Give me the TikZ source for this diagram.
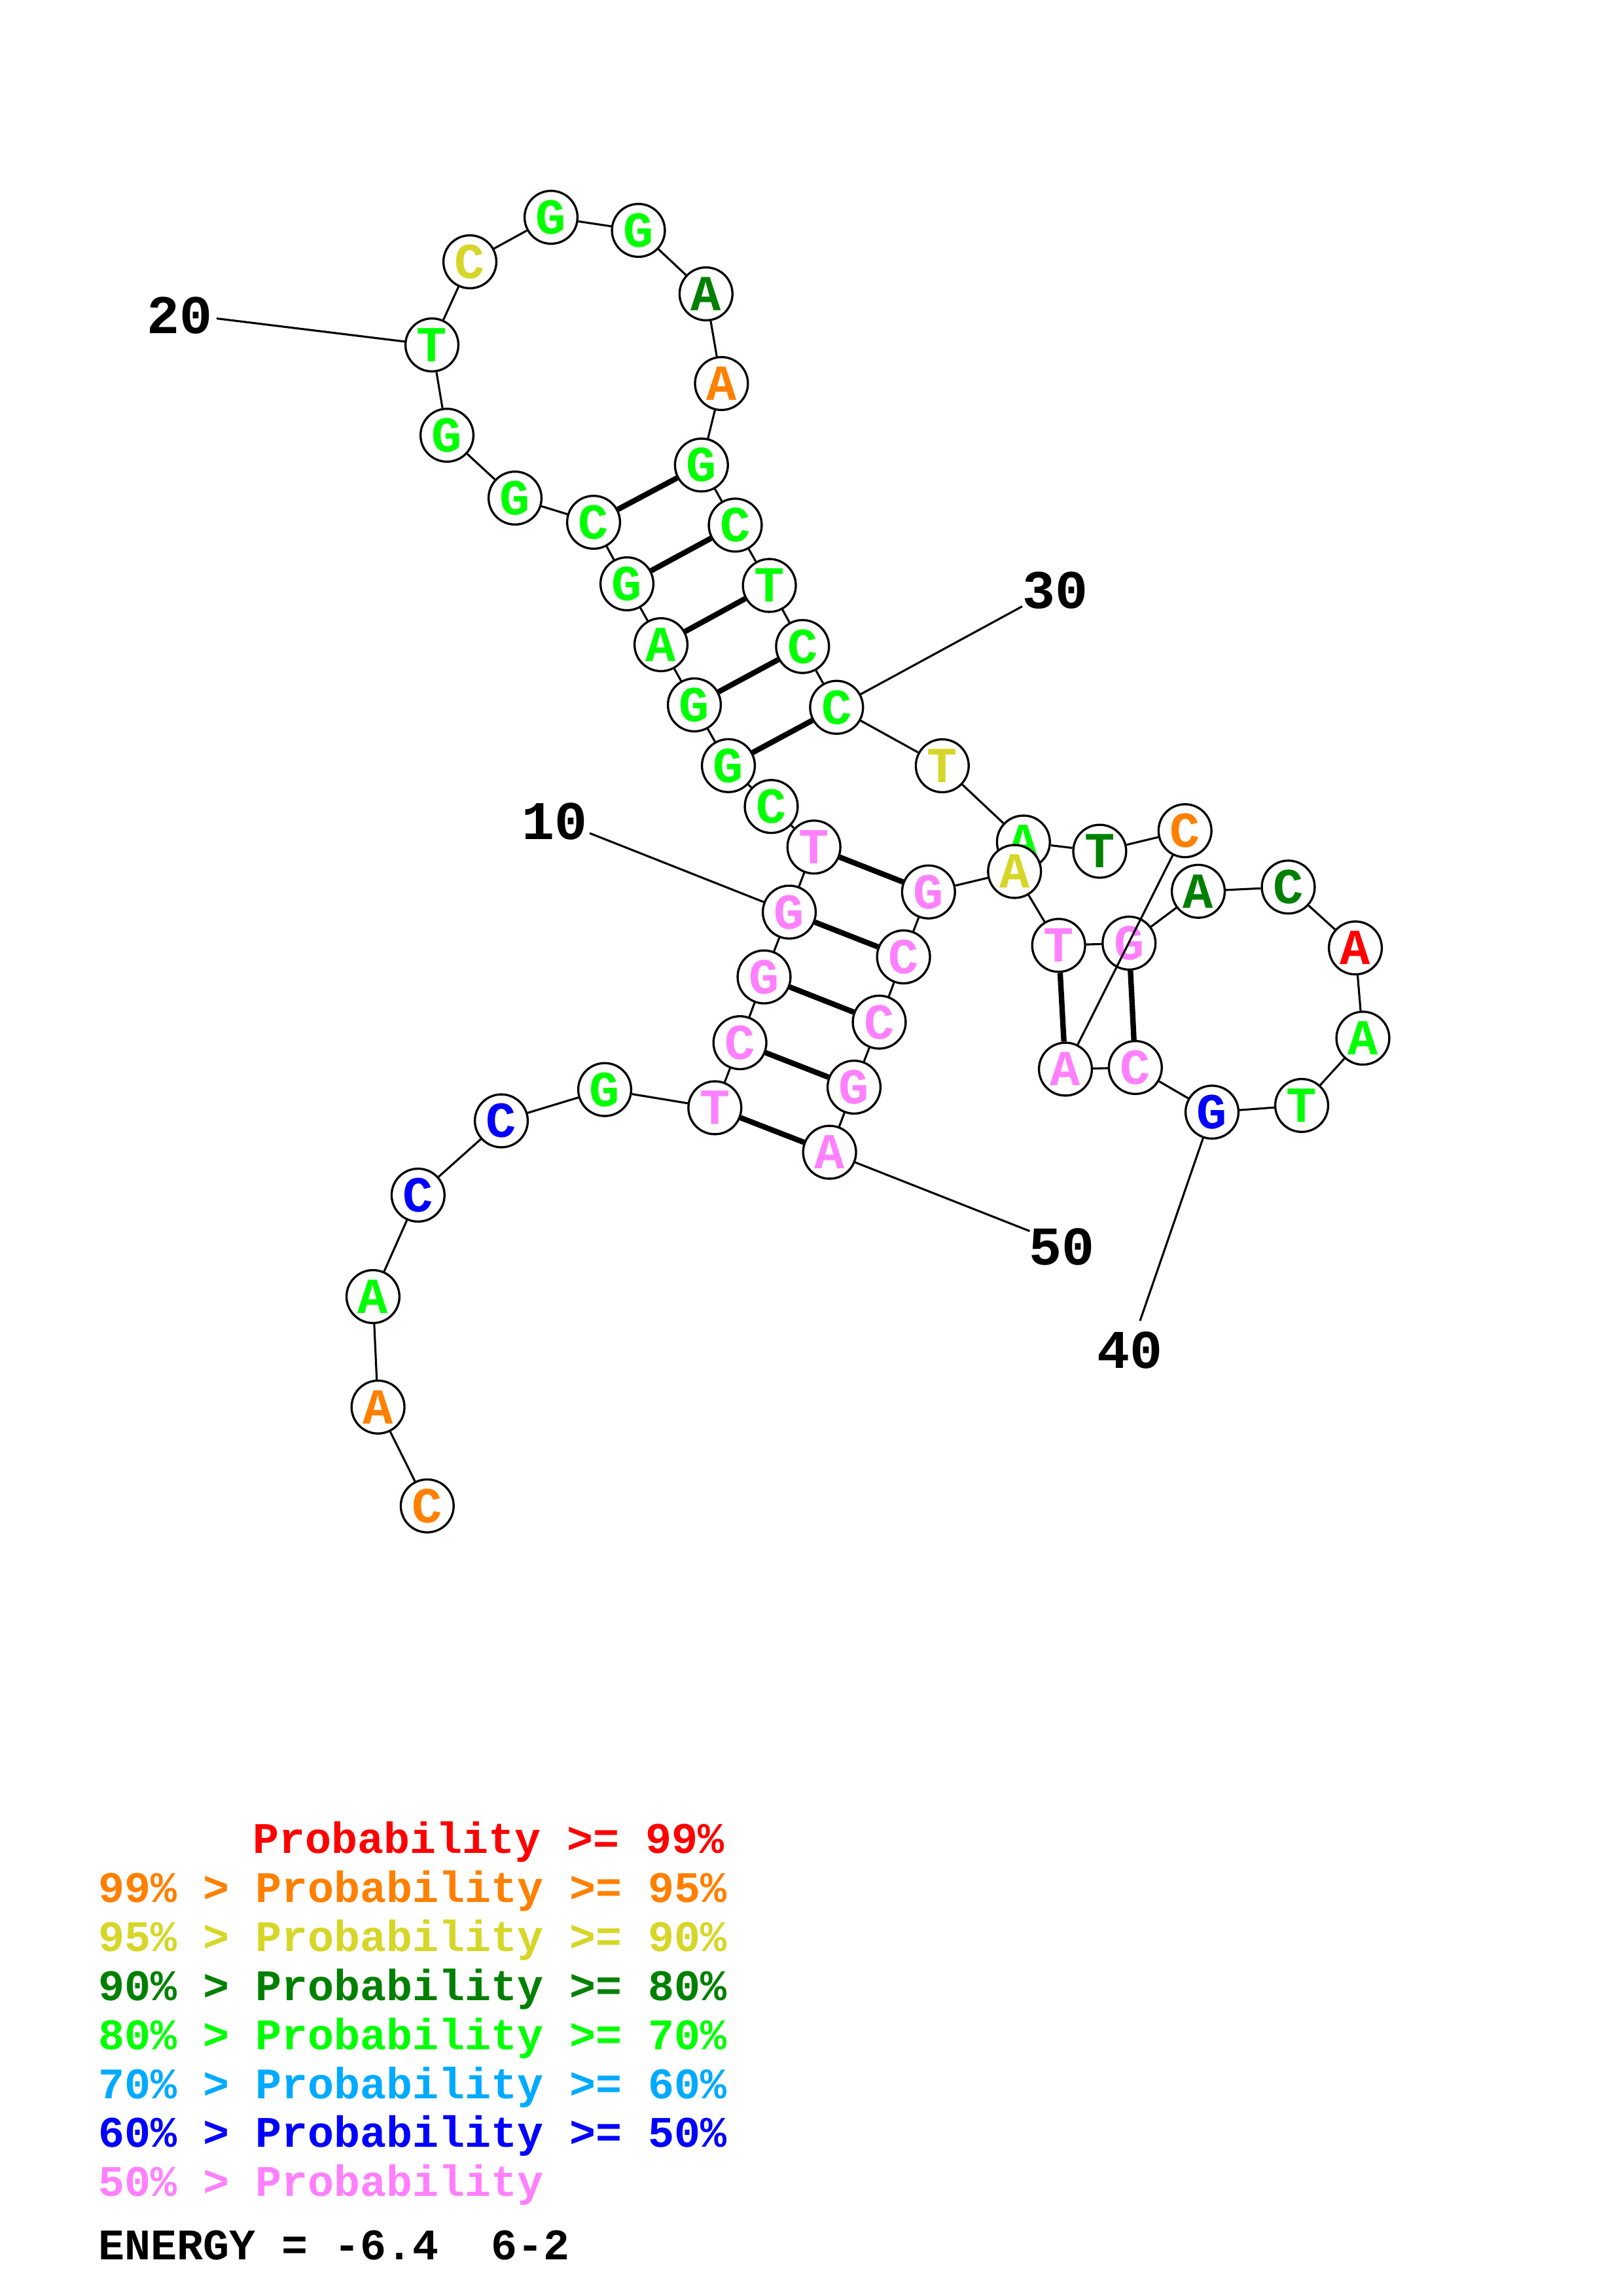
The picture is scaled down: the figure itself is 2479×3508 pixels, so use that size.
\documentclass[tikz,border=0pt]{standalone}
\usepackage{fontspec}
\newfontfamily\cour{Liberation Mono}
\usetikzlibrary{backgrounds}
\definecolor{cred}{RGB}{255,0,0}
\definecolor{corange}{RGB}{255,128,0}
\definecolor{cyellow}{RGB}{214,214,40}
\definecolor{cdkgreen}{RGB}{0,128,0}
\definecolor{cgreen}{RGB}{0,255,0}
\definecolor{cltblue}{RGB}{0,170,255}
\definecolor{cblue}{RGB}{0,0,255}
\definecolor{cpink}{RGB}{255,128,255}
\tikzset{
  nt/.style={circle, draw=black, fill=white, line width=0.8pt, minimum size=19.4pt, inner sep=0pt,
    font=\cour\bfseries\fontsize{18.5pt}{18.5pt}\selectfont},
  bb/.style={line width=0.75pt},
  bp/.style={line width=2pt},
  lab/.style={inner sep=0pt, font=\cour\bfseries\fontsize{20pt}{20pt}\selectfont},
  leg/.style={anchor=base west, inner sep=0pt, font=\cour\bfseries\fontsize{16pt}{16pt}\selectfont},
}
\begin{document}
\begin{tikzpicture}[x=0.24pt, y=-0.24pt]
\useasboundingbox (0,0) rectangle (2479,3508);
% nucleotides
\foreach \i/\x/\y/\c/\l in {
 1/652.8/2300.8/corange/C, 2/577.6/2149.8/corange/A, 3/569.9/1981/cgreen/A,
 4/638.8/1826/cblue/C, 5/766/1712.5/cblue/C, 6/924/1664.7/cgreen/G,
 7/1092.3/1692.5/cpink/T, 8/1130.6/1593.1/cpink/C, 9/1167.5/1492.6/cpink/G,
 10/1206/1393.6/cpink/G, 11/1243.7/1294.2/cpink/T, 12/1178.5/1232.2/cgreen/C,
 13/1113/1169.8/cgreen/G, 14/1061/1077/cgreen/G, 15/1010/985/cgreen/A,
 16/958/892/cgreen/G, 17/907/798/cgreen/C, 18/787/761/cgreen/G,
 19/683/665/cgreen/G, 20/660/527/cgreen/T, 21/718/400/cyellow/C,
 22/842/332/cgreen/G, 23/975.5/352/cgreen/G, 24/1078.8/449/cdkgreen/A,
 25/1102.4/586/corange/A, 26/1071.8/710.5/cgreen/G, 27/1123.5/802.3/cgreen/C,
 28/1175.6/894.5/cgreen/T, 29/1226.3/987.8/cgreen/C, 30/1278.3/1080.7/cgreen/C,
 31/1439.8/1170/cyellow/T, 32/1563.8/1286.5/cgreen/A, 33/1680.4/1300.6/cdkgreen/T,
 34/1810.7/1269.2/corange/C, 35/1628/1633.5/cpink/A, 36/1734.8/1631/cpink/C,
 37/1852/1699.2/cblue/G, 38/1989/1689/cgreen/T, 39/2082.5/1586.2/cgreen/A,
 40/2071/1448.3/cred/A, 41/1968.5/1355.3/cdkgreen/C, 42/1831/1361.8/cdkgreen/A,
 43/1725.2/1441/cpink/G, 44/1617.6/1444.4/cpink/T, 45/1550.2/1331.5/cyellow/A,
 46/1418.8/1362.8/cpink/G, 47/1380.6/1462/cpink/C, 48/1343.5/1561.7/cpink/C,
 49/1305/1661/cpink/G, 50/1267.6/1760.5/cpink/A}
 \node[nt, text=\c] (n\i) at (\x,\y) {\l};
% number labels
\node[lab] (l10) at (847,1255) {10};
\node[lab] (l20) at (275,482.5) {20};
\node[lab] (l30) at (1612.8,901.7) {30};
\node[lab] (l40) at (1726.5,2063) {40};
\node[lab] (l50) at (1622.5,1905) {50};
\coordinate (e10) at (901,1273);
\coordinate (e20) at (331,486.6);
\coordinate (e30) at (1561.9,926.5);
\coordinate (e40) at (1742,2018);
\coordinate (e50) at (1573.5,1881);
\begin{pgfonlayer}{background}
  \foreach \i [evaluate=\i as \j using {int(\i+1)}] in {1,...,33}
    \draw[bb] (n\i) -- (n\j);
  \foreach \i [evaluate=\i as \j using {int(\i+1)}] in {35,...,49}
    \draw[bb] (n\i) -- (n\j);
  \foreach \a/\b in {17/26,16/27,15/28,14/29,13/30,11/46,10/47,9/48,8/49,7/50,44/35,43/36}
    \draw[bp] (n\a) -- (n\b);
  \foreach \k/\m in {10/10,20/20,30/30,40/37,50/50}
    \draw[bb] (e\k) -- (n\m);
\end{pgfonlayer}
\draw[bb] (n34) -- (n35);
% legend
\node[leg, text=cred] (g1) at (386,2831.6) {Probability >= 99\%};
\node[leg, text=corange] (g2) at (150,2906.6) {99\% > Probability >= 95\%};
\node[leg, text=cyellow] (g3) at (150,2981.6) {95\% > Probability >= 90\%};
\node[leg, text=cdkgreen] (g4) at (150,3056) {90\% > Probability >= 80\%};
\node[leg, text=cgreen] (g5) at (150,3131) {80\% > Probability >= 70\%};
\node[leg, text=cltblue] (g6) at (150,3206) {70\% > Probability >= 60\%};
\node[leg, text=cblue] (g7) at (150,3280.6) {60\% > Probability >= 50\%};
\node[leg, text=cpink] (g8) at (150,3355.6) {50\% > Probability};
\node[leg, text=black] (g9) at (150,3452.6) {ENERGY = -6.4\ \ 6-2};
\end{tikzpicture}
\end{document}
